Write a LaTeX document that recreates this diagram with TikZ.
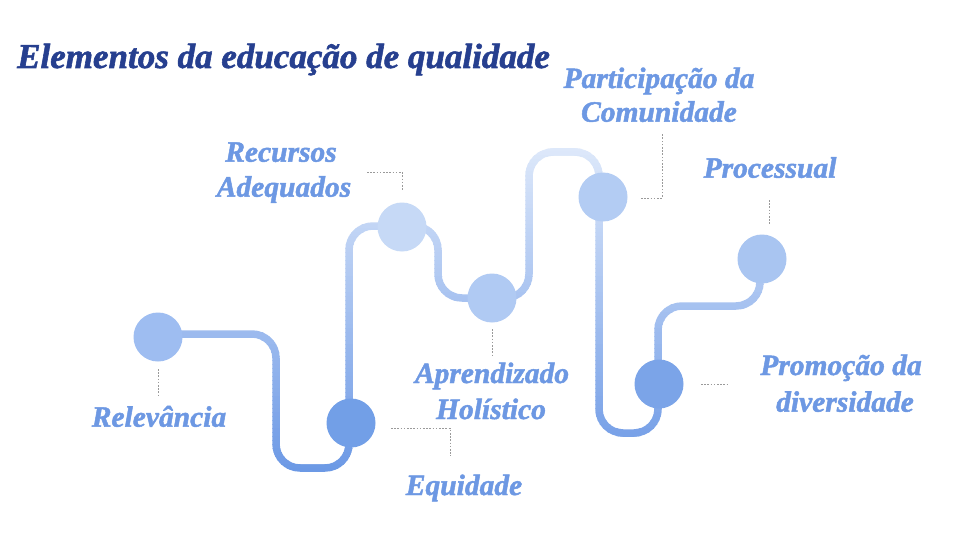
\documentclass[tikz,border=0pt]{standalone}
\usepackage{fontspec}
\setmainfont{Liberation Serif}
\newfontfamily\lobf[FakeBold=1.6]{Liberation Serif Bold Italic}
\definecolor{lt}{HTML}{DDE8FA}
\definecolor{dk}{HTML}{6B98E5}
\definecolor{labc}{HTML}{6D98E3}
\definecolor{titc}{HTML}{263F8F}
\definecolor{dotc}{HTML}{9A9A9A}
\definecolor{crel}{HTML}{9EBDF1}
\definecolor{cequ}{HTML}{729FE7}
\definecolor{crec}{HTML}{C6D9F6}
\definecolor{capr}{HTML}{B0CAF3}
\definecolor{cpar}{HTML}{B3CCF3}
\definecolor{cpro}{HTML}{7BA4E8}
\definecolor{cprc}{HTML}{A9C5F1}
\begin{document}
\begin{tikzpicture}[x=1pt,y=-1pt,
  lab/.style={text=labc, font=\fontsize{29.5}{34}\lobf, anchor=base, inner sep=0pt},
  dotln/.style={draw=dotc, line width=0.9pt, dash pattern=on 1.6pt off 1.6pt},
  stopc/.style={circle, inner sep=0pt, minimum size=49pt},
  mainpath/.style={insert path={(158,334) -- (276,334) -- (276,468) -- (349,468) -- (349,226) -- (438,226) -- (438,298) -- (529,298) -- (529,152) -- (599,152) -- (599,433) -- (658,433) -- (658,306) -- (760,306) -- (760,258)}}
]
\useasboundingbox (0,0) rectangle (960,540);
\fill[white] (0,0) rectangle (960,540);
% gradient road
\foreach \i in {0,...,83} {
  \pgfmathsetmacro\ya{144+4*\i}
  \pgfmathsetmacro\yb{\ya+4.8}
  \pgfmathtruncatemacro\pc{max(0,min(100,(\ya+2-148)/3.24))}
  \begin{scope}
    \clip (0,\ya) rectangle (960,\yb);
    \draw[line width=7.5pt, rounded corners=24pt, draw={dk!\pc!lt}, mainpath];
  \end{scope}
}
% stops
\node[stopc, fill=crel] (rel) at (158,337) {};
\node[stopc, fill=cequ] (equ) at (351,423) {};
\node[stopc, fill=crec] (rec) at (402,227) {};
\node[stopc, fill=capr] (apr) at (492,298) {};
\node[stopc, fill=cpar] (par) at (603,197) {};
\node[stopc, fill=cpro] (pro) at (659,384) {};
\node[stopc, fill=cprc] (prc) at (762,259) {};
% title
\node[text=titc, font=\fontsize{35}{40}\lobf, anchor=base west, inner sep=0pt] (title) at (17,68) {Elementos da educação de qualidade};
% labels
\node[lab] (lrel) at (159,426.7) {Relevância};
\node[lab] (lequ) at (464,495) {Equidade};
\node[lab] (lrec1) at (281,161.7) {Recursos};
\node[lab] (lrec2) at (284,196.7) {Adequados};
\node[lab] (lapr1) at (492,383) {Aprendizado};
\node[lab] (lapr2) at (491,419) {Holístico};
\node[lab] (lpar1) at (659,88) {Participação da};
\node[lab] (lpar2) at (659,121.7) {Comunidade};
\node[lab] (lprc) at (770,177.7) {Processual};
\node[lab] (lpro1) at (841,375) {Promoção da};
\node[lab] (lpro2) at (845,411.7) {diversidade};
% dotted leaders
\coordinate (r1) at (158,369); \coordinate (r2) at (158,395);
\draw[dotln] (r1) -- (r2);
\coordinate (e1) at (391,428); \coordinate (e2) at (450,428); \coordinate (e3) at (450,456);
\draw[dotln] (e1) -- (e2) -- (e3);
\coordinate (k1) at (367,172); \coordinate (k2) at (402,172); \coordinate (k3) at (402,190);
\draw[dotln] (k1) -- (k2) -- (k3);
\coordinate (a1) at (492,329); \coordinate (a2) at (492,357);
\draw[dotln] (a1) -- (a2);
\coordinate (p1) at (641,198); \coordinate (p2) at (662,198); \coordinate (p3) at (662,134);
\draw[dotln] (p1) -- (p2) -- (p3);
\coordinate (m1) at (701,384); \coordinate (m2) at (727,384);
\draw[dotln] (m1) -- (m2);
\coordinate (s1) at (769,200); \coordinate (s2) at (769,225);
\draw[dotln] (s1) -- (s2);
\end{tikzpicture}
\end{document}
